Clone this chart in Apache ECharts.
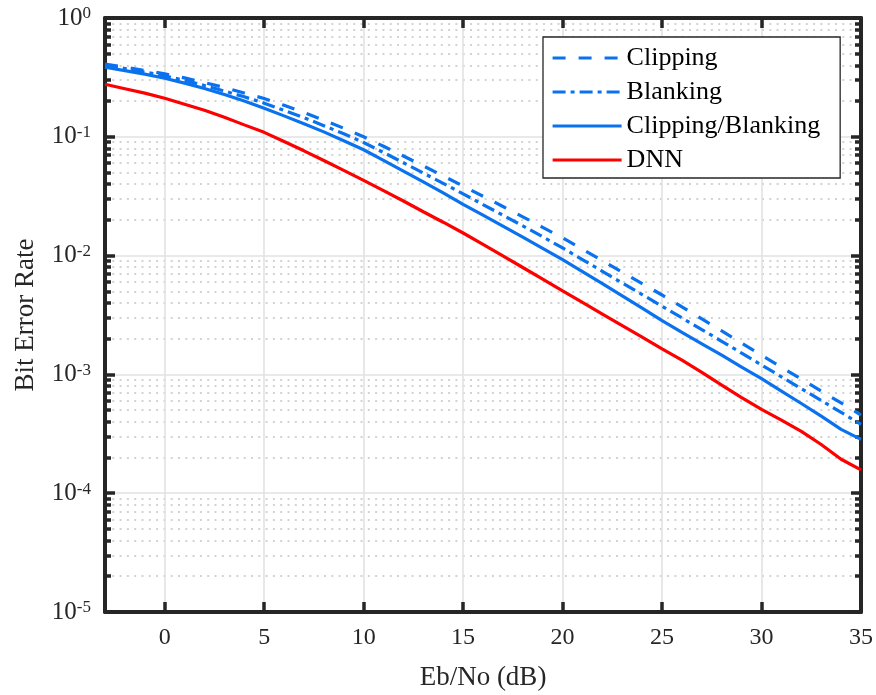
<!DOCTYPE html>
<html>
<head>
<meta charset="utf-8">
<script src="https://cdn.jsdelivr.net/npm/echarts@6/dist/echarts.min.js"></script>
<style>
  html, body { margin: 0; padding: 0; background: #ffffff; }
  #chart { width: 876px; height: 695px; }
</style>
</head>
<body>
<div id="chart"></div>
<script>
// Eb/No sweep in dB
const ebno = [-3, -2, -1, 0, 1, 2, 3, 4, 5, 6, 7, 8, 9, 10, 11, 12, 13, 14, 15, 16,
  17, 18, 19, 20, 21, 22, 23, 24, 25, 26, 27, 28, 29, 30, 31, 32, 33, 34, 35];

// Bit error rate of each receiver
const clipping = [0.410, 0.386, 0.362, 0.339, 0.313, 0.286, 0.260, 0.234, 0.210, 0.184,
  0.160, 0.138, 0.118, 0.100, 0.0832, 0.0689, 0.0569, 0.0468, 0.0385, 0.0316,
  0.0259, 0.0212, 0.0173, 0.0141, 0.0113, 0.00908, 0.00725, 0.00582, 0.00466, 0.00370,
  0.00293, 0.00232, 0.00183, 0.00145, 0.00115, 9.12e-4, 7.24e-4, 5.75e-4, 4.55e-4];
const blanking = [0.400, 0.376, 0.351, 0.326, 0.299, 0.270, 0.243, 0.217, 0.192, 0.167,
  0.145, 0.124, 0.106, 0.0895, 0.0738, 0.0605, 0.0495, 0.0406, 0.0331, 0.0269,
  0.0219, 0.0178, 0.0144, 0.0116, 0.00925, 0.00738, 0.00589, 0.00470, 0.00375, 0.00299,
  0.00238, 0.00190, 0.00151, 0.00120, 9.55e-4, 7.59e-4, 6.03e-4, 4.79e-4, 3.80e-4];
const clipBlank = [0.385, 0.361, 0.337, 0.311, 0.283, 0.255, 0.227, 0.200, 0.174, 0.150,
  0.129, 0.110, 0.0927, 0.0778, 0.0634, 0.0515, 0.0417, 0.0337, 0.0270, 0.0219,
  0.0177, 0.0143, 0.0115, 0.00925, 0.00733, 0.00581, 0.00459, 0.00361, 0.00284, 0.00226,
  0.00181, 0.00145, 0.00115, 9.2e-4, 7.24e-4, 5.69e-4, 4.45e-4, 3.45e-4, 2.84e-4];
const dnn = [0.277, 0.254, 0.233, 0.211, 0.188, 0.167, 0.146, 0.126, 0.109, 0.0912,
  0.0762, 0.0631, 0.0521, 0.0430, 0.0352, 0.0288, 0.0234, 0.0191, 0.0155, 0.01245,
  0.00995, 0.00794, 0.00634, 0.00505, 0.00403, 0.00322, 0.00257, 0.00206, 0.00164, 0.00132,
  0.00104, 8.13e-4, 6.37e-4, 5.08e-4, 4.12e-4, 3.31e-4, 2.57e-4, 1.93e-4, 1.57e-4];

// Axis ticks
const xTicks = [0, 5, 10, 15, 20, 25, 30, 35];
const yDecades = [1e-5, 1e-4, 1e-3, 1e-2, 1e-1, 1];
const yMinor = [];
yDecades.slice(0, -1).forEach(d => {
  for (let k = 2; k <= 9; k++) yMinor.push(+(d * k).toPrecision(3));
});

const FONT = '"Liberation Serif", "Times New Roman", serif';
const FRAME = '#262626';
const BLUE = '#0a72ee';
const RED = '#ff0000';

const pairs = ys => ebno.map((x, i) => [x, ys[i]]);

const frameLine = { show: true, onZero: false, lineStyle: { color: FRAME, width: 4 } };
const noLine = { show: false, onZero: false };

function logAxis(extra) {
  return Object.assign({
    type: 'log', logBase: 10, min: 1e-5, max: 1,
    axisLabel: { show: false },
    splitLine: { show: false },
    axisLine: noLine,
    axisTick: { show: false }
  }, extra);
}

const chart = echarts.init(document.getElementById('chart'), null, { renderer: 'canvas' });

chart.setOption({
  backgroundColor: '#ffffff',
  animation: false,
  textStyle: { fontFamily: FONT },
  grid: { left: 105, right: 15, top: 18, bottom: 83, outerBoundsMode: 'none' },
  legend: {
    orient: 'vertical',
    left: 543, top: 37,
    padding: [8, 20, 5, 8],
    itemWidth: 69, itemHeight: 14, itemGap: 8,
    backgroundColor: '#ffffff',
    borderColor: FRAME, borderWidth: 1.3, borderRadius: 0,
    itemStyle: { opacity: 0, color: 'transparent', borderWidth: 0 },
    lineStyle: { width: 3.2 },
    textStyle: { fontFamily: FONT, fontSize: 26, lineHeight: 25, color: '#000000' },
    data: ['Clipping', 'Blanking', 'Clipping/Blanking', 'DNN']
  },
  xAxis: [
    {
      type: 'value', min: -3, max: 35, position: 'bottom',
      name: 'Eb/No (dB)', nameLocation: 'middle', nameGap: 52,
      nameTextStyle: { fontFamily: FONT, fontSize: 27, color: '#262626' },
      axisLine: frameLine,
      axisTick: { show: true, inside: true, length: 10, customValues: xTicks,
        lineStyle: { color: FRAME, width: 3.5 } },
      axisLabel: { customValues: xTicks, margin: 14, fontFamily: FONT, fontSize: 24, color: '#262626' },
      splitLine: { show: true, lineStyle: { color: '#e2e2e2', width: 1.6 } }
    },
    {
      type: 'value', min: -3, max: 35, position: 'top',
      axisLine: frameLine,
      axisTick: { show: true, inside: true, length: 10, customValues: xTicks,
        lineStyle: { color: FRAME, width: 3.5 } },
      axisLabel: { show: false },
      splitLine: { show: false }
    }
  ],
  yAxis: [
    logAxis({
      position: 'left',
      name: 'Bit Error Rate', nameLocation: 'middle', nameGap: 66, nameRotate: 90,
      nameTextStyle: { fontFamily: FONT, fontSize: 27, color: '#262626' },
      axisLine: frameLine,
      axisTick: { show: true, inside: true, length: 10, customValues: yDecades,
        lineStyle: { color: FRAME, width: 3.5 } },
      axisLabel: {
        show: true, customValues: yDecades, margin: 14,
        formatter: v => '{b|10}{s|' + Math.round(Math.log10(v)) + '}',
        rich: {
          b: { fontFamily: FONT, fontSize: 25, lineHeight: 25, color: '#262626' },
          s: { fontFamily: FONT, fontSize: 17, lineHeight: 8, verticalAlign: 'top', color: '#262626' }
        }
      },
      splitLine: { show: true, lineStyle: { color: '#e2e2e2', width: 1.6 } }
    }),
    logAxis({
      position: 'left',
      axisTick: { show: true, inside: true, length: 6, customValues: yMinor,
        lineStyle: { color: FRAME, width: 3.5 } },
      splitLine: { show: true, lineStyle: { color: '#c4c4c4', width: 1.5, type: [2, 5.3] } }
    }),
    logAxis({
      position: 'right',
      axisLine: frameLine,
      axisTick: { show: true, inside: true, length: 10, customValues: yDecades,
        lineStyle: { color: FRAME, width: 3.5 } }
    }),
    logAxis({
      position: 'right',
      axisTick: { show: true, inside: true, length: 6, customValues: yMinor,
        lineStyle: { color: FRAME, width: 3.5 } }
    })
  ],
  series: [
    {
      name: 'Clipping', type: 'line', data: pairs(clipping),
      symbol: 'none', showSymbol: false, z: 3,
      lineStyle: { color: BLUE, width: 3.2, type: [13, 13] },
      itemStyle: { color: BLUE }
    },
    {
      name: 'Blanking', type: 'line', data: pairs(blanking),
      symbol: 'none', showSymbol: false, z: 3,
      lineStyle: { color: BLUE, width: 3.2, type: [13, 5, 4, 5] },
      itemStyle: { color: BLUE }
    },
    {
      name: 'Clipping/Blanking', type: 'line', data: pairs(clipBlank),
      symbol: 'none', showSymbol: false, z: 3,
      lineStyle: { color: BLUE, width: 3.2, type: 'solid' },
      itemStyle: { color: BLUE }
    },
    {
      name: 'DNN', type: 'line', data: pairs(dnn),
      symbol: 'none', showSymbol: false, z: 4,
      lineStyle: { color: RED, width: 3.2, type: 'solid' },
      itemStyle: { color: RED }
    }
  ]
});
</script>
</body>
</html>
